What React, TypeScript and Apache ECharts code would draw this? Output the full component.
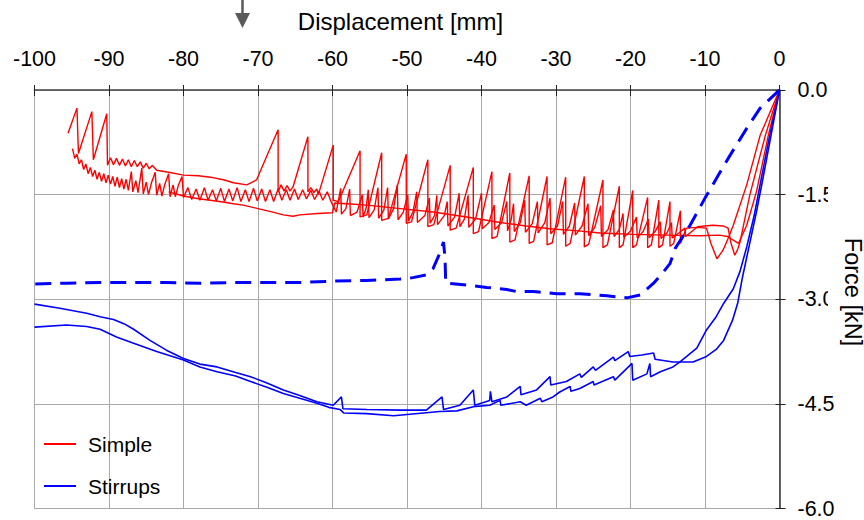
import React, { useEffect, useRef } from "react";
import * as echarts from "echarts";

const FONT = "'Liberation Sans', Arial, Helvetica, sans-serif";

// Displacement [mm] vs Force [kN]
const simpleA: number[][] = [
  [-95.5, -0.62], [-94.3, -0.26], [-94.1, -0.91], [-92.3, -0.31], [-92.1, -1.0], [-90.3, -0.34], [-90.2, -1.08],
  [-89.8, -0.97], [-89.4, -1.07], [-89.0, -0.98], [-88.6, -1.08], [-88.2, -0.99], [-87.8, -1.09], [-87.4, -1.0],
  [-87.0, -1.1], [-86.6, -1.01], [-86.2, -1.1], [-85.8, -1.03], [-85.4, -1.12], [-85.0, -1.05], [-84.6, -1.13],
  [-84.2, -1.08], [-83.6, -1.15], [-82, -1.18], [-80, -1.22], [-78, -1.23], [-76.4, -1.25], [-74.5, -1.29],
  [-73.3, -1.33], [-71.5, -1.36], [-70.2, -1.29],
  [-67.3, -0.57], [-67.3, -1.46], [-66.9, -1.36], [-66.5, -1.45], [-66.1, -1.37], [-65.7, -1.45], [-65.3, -1.39],
  [-63.3, -0.67], [-63.3, -1.46], [-62.9, -1.4], [-62.5, -1.47], [-62.1, -1.42], [-61.9, -1.5],
  [-59.9, -0.79], [-59.9, -1.58], [-59.2, -1.6], [-56.3, -0.87], [-56.3, -1.82], [-55.4, -1.79],
  [-53.4, -0.9], [-53.4, -1.87], [-52.5, -1.84], [-50.1, -0.92], [-50.1, -1.91], [-49.4, -1.89],
  [-47.2, -1.0], [-47.2, -1.96], [-46.4, -1.93], [-44.2, -1.08], [-44.2, -2.01], [-43.4, -1.98],
  [-41.1, -1.11], [-41.1, -2.06], [-40.4, -2.03], [-38.6, -1.17], [-38.6, -2.13], [-37.9, -2.1],
  [-36.2, -1.19], [-36.2, -2.18], [-35.5, -2.15], [-33.6, -1.23], [-33.6, -2.2], [-33.0, -2.17],
  [-31.2, -1.24], [-31.2, -2.22], [-30.5, -2.19], [-28.7, -1.25], [-28.7, -2.24], [-28.1, -2.2],
  [-26.2, -1.24], [-26.2, -2.25], [-25.6, -2.21], [-23.7, -1.29], [-23.7, -2.26], [-23.1, -2.22],
  [-21.5, -1.38], [-21.5, -2.26], [-21.0, -2.22], [-19.7, -1.44], [-19.7, -2.26], [-19.2, -2.22],
  [-17.7, -1.54], [-17.7, -2.26], [-17.2, -2.22], [-16.2, -1.58], [-16.2, -2.26], [-15.7, -2.22],
  [-14.7, -1.6], [-14.7, -2.24], [-14.2, -2.2], [-13.3, -1.73], [-13.3, -2.2],
  [-12.5, -1.98], [-11, -1.97], [-9.8, -1.98], [-9.2, -2.2], [-8.4, -2.42], [-7.6, -2.3], [-6.9, -2.13],
  [-6.2, -1.94], [-4.4, -1.36], [-2.6, -0.65], [0, 0],
];

const simpleB: number[][] = [
  [-94.9, -0.84], [-94.6, -0.98], [-94.3, -0.92], [-94.0, -1.06], [-93.7, -1.0], [-93.4, -1.14], [-93.1, -1.06],
  [-92.8, -1.2], [-92.5, -1.11], [-92.2, -1.24], [-91.9, -1.15], [-91.6, -1.28], [-91.3, -1.18], [-91.0, -1.31],
  [-90.7, -1.2], [-90.4, -1.33], [-90.1, -1.22], [-89.8, -1.35],
  [-89.5, -1.24], [-89.2, -1.38], [-88.9, -1.25], [-88.6, -1.4], [-88.3, -1.27], [-88.0, -1.42], [-87.7, -1.28],
  [-87.4, -1.44], [-87.0, -1.17], [-86.8, -1.46], [-86.4, -1.3], [-86.1, -1.47], [-85.6, -1.12], [-85.4, -1.49],
  [-85.0, -1.32], [-84.7, -1.5], [-84.3, -1.33], [-83.8, -1.18], [-83.6, -1.51], [-83.2, -1.34], [-82.9, -1.52],
  [-82.5, -1.35], [-82.0, -1.2], [-81.8, -1.53], [-81.4, -1.36], [-81.1, -1.53], [-80.7, -1.37], [-80.2, -1.24],
  [-80.0, -1.54],
  [-79.4, -1.4], [-78.9, -1.57], [-78.3, -1.42], [-77.8, -1.58], [-77.2, -1.4], [-76.7, -1.58], [-76.1, -1.43],
  [-75.6, -1.59], [-75.0, -1.41], [-74.5, -1.6], [-73.9, -1.42], [-73.4, -1.59], [-72.8, -1.4], [-72.3, -1.6],
  [-71.7, -1.43], [-71.2, -1.6], [-70.6, -1.41], [-70.1, -1.59], [-69.5, -1.42], [-69.0, -1.6], [-68.4, -1.43],
  [-67.9, -1.6], [-67.3, -1.42], [-66.8, -1.58], [-66.2, -1.43], [-65.7, -1.58], [-65.1, -1.42], [-64.6, -1.57],
  [-64.0, -1.43], [-63.5, -1.56], [-62.9, -1.44], [-62.4, -1.57], [-61.8, -1.45], [-61.3, -1.58], [-60.7, -1.46],
  [-60.2, -1.6],
  [-59.5, -1.75], [-58.9, -1.41], [-58.8, -1.78], [-58.2, -1.7], [-57.7, -1.42], [-57.6, -1.8], [-56.7, -1.75],
  [-56.0, -1.5], [-55.9, -1.82], [-55.5, -1.7], [-55.2, -1.43], [-55.1, -1.83], [-54.4, -1.72], [-53.9, -1.4],
  [-53.8, -1.84], [-53.1, -1.72], [-52.6, -1.4], [-52.5, -1.85], [-51.8, -1.7], [-51.3, -1.36], [-51.2, -1.86],
  [-50.5, -1.75], [-49.9, -1.5], [-49.8, -1.88], [-49.2, -1.75], [-48.7, -1.46], [-48.6, -1.9], [-47.6, -1.8],
  [-47.0, -1.55], [-46.9, -1.91], [-46.3, -1.8], [-46.0, -1.51], [-45.9, -1.93], [-45.0, -1.8], [-44.6, -1.6],
  [-44.5, -1.95], [-43.6, -1.82], [-43.0, -1.48], [-42.9, -1.96], [-42.3, -1.85], [-41.8, -1.51], [-41.7, -1.97],
  [-40.8, -1.85], [-40.0, -1.48], [-39.9, -1.99], [-39.0, -1.9], [-38.3, -1.65], [-38.2, -2.0], [-37.3, -1.9],
  [-36.6, -1.6], [-36.5, -2.02], [-36.0, -1.85], [-35.7, -1.63], [-35.6, -2.03], [-34.8, -1.9], [-34.2, -1.58],
  [-34.1, -2.04], [-33.2, -1.92], [-32.5, -1.6], [-32.4, -2.05], [-31.5, -1.9], [-30.8, -1.55], [-30.7, -2.06],
  [-29.8, -1.95], [-29.1, -1.6], [-29.0, -2.07], [-28.2, -1.95], [-27.5, -1.62], [-27.4, -2.08], [-26.5, -1.95],
  [-25.7, -1.63], [-25.6, -2.09], [-24.8, -1.97], [-24.0, -1.66], [-23.9, -2.1], [-23.0, -2.0], [-22.3, -1.72],
  [-22.2, -2.1], [-21.5, -2.0], [-21.0, -1.77], [-20.9, -2.11], [-20.0, -2.02], [-19.2, -1.82], [-19.1, -2.12],
  [-18.3, -2.03], [-17.6, -1.85], [-17.5, -2.12], [-16.7, -2.03], [-16.0, -1.89], [-15.9, -2.13], [-15.1, -2.05],
  [-14.5, -1.9], [-14.4, -2.12], [-13.5, -2.05], [-12.7, -1.98], [-12.6, -2.1],
  [-11, -1.96], [-9, -1.94], [-7.5, -1.95], [-6.9, -1.98], [-6.5, -2.2], [-6.0, -2.37], [-5.6, -2.28],
  [-5.3, -2.18], [-4.0, -1.51], [-1.9, -0.65], [0, 0],
];

const simpleC: number[][] = [
  [-82, -1.46], [-80, -1.52], [-78, -1.56], [-76.4, -1.58], [-74.5, -1.61], [-73.3, -1.63], [-72, -1.65],
  [-70, -1.7], [-68, -1.75], [-66.6, -1.79], [-65.3, -1.81], [-64.4, -1.79], [-62, -1.77], [-60, -1.76],
  [-59.7, -1.62], [-58, -1.63], [-55.4, -1.65], [-50.9, -1.7], [-46.5, -1.75], [-42, -1.82], [-37.5, -1.9],
  [-34, -1.95], [-30.8, -1.99], [-27, -2.02], [-24.1, -2.05], [-19.6, -2.07], [-15.1, -2.08], [-10.7, -2.09],
  [-8, -2.08], [-7, -2.1], [-5.5, -2.2], [-4.4, -1.94], [-3.1, -1.46], [-1.5, -0.65], [0, 0],
];

const stirrupsA: number[][] = [
  [-100, -3.07], [-96.6, -3.13], [-93, -3.2], [-91.2, -3.25], [-89.4, -3.29], [-88, -3.35], [-86.7, -3.43],
  [-84.5, -3.59], [-82.3, -3.73], [-80, -3.85], [-77.8, -3.93], [-75.5, -3.97], [-73, -4.05], [-71, -4.11],
  [-68.8, -4.2], [-66.6, -4.3], [-64.4, -4.38], [-62.1, -4.47], [-59.9, -4.52], [-58.8, -4.4], [-58.6, -4.57],
  [-55.4, -4.58], [-50.9, -4.59], [-47.4, -4.59], [-45.3, -4.4], [-45.1, -4.58], [-42.9, -4.52], [-41.1, -4.3],
  [-40.9, -4.52], [-38.9, -4.45], [-38.8, -4.32], [-38.6, -4.47], [-36.6, -4.4], [-34.8, -4.25], [-34.7, -4.37],
  [-32.6, -4.3], [-30.8, -4.11], [-30.7, -4.23], [-28.6, -4.18], [-26.8, -4.07], [-26.6, -4.12], [-25, -3.97],
  [-24.7, -4.02], [-22.3, -3.83], [-22.1, -3.88], [-20.3, -3.75], [-20.1, -3.82], [-18.5, -3.8], [-16.9, -3.77],
  [-16.7, -3.86], [-14.3, -3.9], [-11.6, -3.9], [-9.8, -3.82], [-8.5, -3.72], [-7.5, -3.59], [-6.3, -3.3],
  [-5.6, -3.05], [-5, -2.7], [-4.1, -2.25], [-3.1, -1.75], [-2.1, -1.2], [-1.05, -0.6], [0, 0],
];

const stirrupsB: number[][] = [
  [-100, -3.4], [-95.7, -3.37], [-93, -3.39], [-91.2, -3.43], [-89, -3.54], [-86.7, -3.63], [-83.6, -3.75],
  [-80, -3.87], [-77.8, -3.97], [-75.5, -4.04], [-73, -4.1], [-71, -4.18], [-68.8, -4.26], [-66.6, -4.35],
  [-64.4, -4.42], [-62.1, -4.49], [-60.5, -4.55], [-59, -4.58], [-58.5, -4.63], [-55.4, -4.64], [-51.8, -4.67],
  [-47.8, -4.63], [-45.6, -4.61], [-43.3, -4.6], [-41.1, -4.54], [-38.9, -4.52], [-37.5, -4.45], [-37.4, -4.52],
  [-34.8, -4.47], [-34, -4.52], [-32.1, -4.42], [-31.9, -4.47], [-30.4, -4.4], [-29.5, -4.33], [-28.1, -4.25],
  [-28, -4.32], [-26.8, -4.28], [-25, -4.18], [-24.9, -4.23], [-22.3, -4.11], [-22.1, -4.16], [-19.8, -3.92],
  [-19.7, -4.16], [-17.8, -4.07], [-17.4, -3.92], [-17.3, -4.11], [-16, -4.04], [-14.3, -3.97], [-13.4, -3.9],
  [-11.1, -3.7], [-9.8, -3.44], [-8.5, -3.25], [-7.5, -3.06], [-6.2, -2.85], [-5.3, -2.6], [-4.4, -2.25],
  [-3.4, -1.8], [-2.5, -1.3], [-1.5, -0.75], [0, 0],
];

const stirrupsC: number[][] = [
  [-99.9, -2.78], [-95.7, -2.77], [-91.2, -2.76], [-86.7, -2.76], [-82.3, -2.76], [-77.8, -2.77], [-73.3, -2.76],
  [-69.7, -2.76], [-64.4, -2.76], [-59.9, -2.74], [-55.4, -2.73], [-50.9, -2.71], [-49.2, -2.69], [-47.4, -2.65],
  [-46.5, -2.56], [-45.6, -2.34], [-45.1, -2.18], [-44.9, -2.4], [-44.8, -2.77], [-41.5, -2.8], [-39.3, -2.83],
  [-36.6, -2.86], [-35.3, -2.89], [-33, -2.89], [-29.9, -2.92], [-26.8, -2.92], [-23.2, -2.95], [-20.5, -2.98],
  [-18.7, -2.94], [-16.9, -2.77], [-15.6, -2.61], [-14.7, -2.49], [-14, -2.27], [-12, -1.94], [-10, -1.55],
  [-8.2, -1.22], [-6.6, -0.93], [-4.4, -0.55], [-2.6, -0.26], [0, 0],
];

const legendNames = ["Simple", "Stirrups"];
const RED = "#ff0000";
const BLUE = "#0000ff";

function line(name: string, data: number[][], color: string, width: number, type: any = "solid") {
  return {
    type: "line",
    name,
    data,
    xAxisIndex: 0,
    yAxisIndex: 0,
    showSymbol: false,
    symbol: "none",
    silent: true,
    itemStyle: { color },
    lineStyle: { color, width, type },
  };
}

export default function App() {
  const ref = useRef<HTMLDivElement>(null);
  useEffect(() => {
    const chart = echarts.init(ref.current!, null, { renderer: "svg" });
    const grid = "#a8a8a8";
    chart.setOption({
      animation: false,
      backgroundColor: "#fff",
      textStyle: { fontFamily: FONT },
      grid: { left: 34.5, right: 84.5, top: 90, bottom: 11.5 },
      legend: {
        data: legendNames,
        orient: "vertical",
        left: 44,
        top: 433,
        padding: 0,
        icon: "rect",
        itemWidth: 32,
        itemHeight: 2,
        itemGap: 20,
        textStyle: { fontSize: 21, color: "#000", fontFamily: FONT, lineHeight: 22, padding: [0, 0, 0, 7] },
      },
      xAxis: [
        {
          type: "value",
          position: "top",
          min: -100,
          max: 0,
          interval: 10,
          name: "Displacement [mm]",
          nameLocation: "middle",
          nameGap: 57,
          nameTextStyle: { fontSize: 24, color: "#000", fontFamily: FONT, padding: [0, 13, 0, 0] },
          axisLine: { show: true, lineStyle: { color: "#444", width: 1.5 } },
          axisTick: { show: true, inside: false, length: 5, lineStyle: { color: "#222" } },
          axisLabel: { fontSize: 21.5, color: "#000", margin: 20, fontFamily: FONT },
          splitLine: { show: true, lineStyle: { color: grid, width: 1 } },
        },
        {
          type: "value",
          position: "top",
          min: -100,
          max: 0,
          interval: 10,
          axisLine: { show: false },
          axisTick: { show: true, inside: true, length: 6, lineStyle: { color: "#222" } },
          axisLabel: { show: false },
          splitLine: { show: false },
        },
      ],
      yAxis: [
        {
          type: "value",
          position: "right",
          min: -6,
          max: 0,
          interval: 1.5,
          axisLine: { show: true, lineStyle: { color: "#333", width: 1.5 } },
          axisTick: { show: true, inside: false, length: 6, lineStyle: { color: "#222" } },
          axisLabel: {
            fontSize: 21.5,
            color: "#000",
            margin: 18,
            fontFamily: FONT,
            formatter: (v: number) => v.toFixed(1),
          },
          splitLine: { show: true, lineStyle: { color: grid, width: 1 } },
        },
        {
          type: "value",
          position: "right",
          min: -6,
          max: 0,
          interval: 1.5,
          axisLine: { show: false },
          axisTick: { show: true, inside: true, length: 4, lineStyle: { color: "#222" } },
          axisLabel: { show: false },
          splitLine: { show: false },
        },
      ],
      series: [
        line("Simple", simpleA, RED, 1.4),
        line("Simple", simpleB, RED, 1.4),
        line("Simple", simpleC, RED, 1.4),
        line("Stirrups", stirrupsA, BLUE, 1.6),
        line("Stirrups", stirrupsB, BLUE, 1.6),
        line("Stirrups", stirrupsC, BLUE, 3, [16, 9]),
      ],
      graphic: [
        {
          type: "line",
          z: 100,
          shape: { x1: 242.5, y1: 0, x2: 242.5, y2: 15 },
          style: { stroke: "#5a5a5a", lineWidth: 2.5 },
        },
        {
          type: "polygon",
          z: 100,
          shape: { points: [[235, 13], [250, 13], [242.5, 28]] },
          style: { fill: "#5a5a5a" },
        },
        {
          type: "rect",
          z: 100,
          shape: { x: 828, y: 180, width: 36, height: 208 },
          style: { fill: "#fff" },
        },
        {
          type: "text",
          z: 101,
          x: 852.5,
          y: 292,
          rotation: -Math.PI / 2,
          style: {
            text: "Force [kN]",
            fontSize: 23.5,
            fontFamily: FONT,
            fill: "#000",
            align: "center",
            verticalAlign: "middle",
          },
        },
      ],
    });
    return () => chart.dispose();
  }, []);
  return (
    <div
      ref={ref}
      style={{ position: "fixed", left: 0, top: 0, width: 864, height: 520 }}
    />
  );
}
